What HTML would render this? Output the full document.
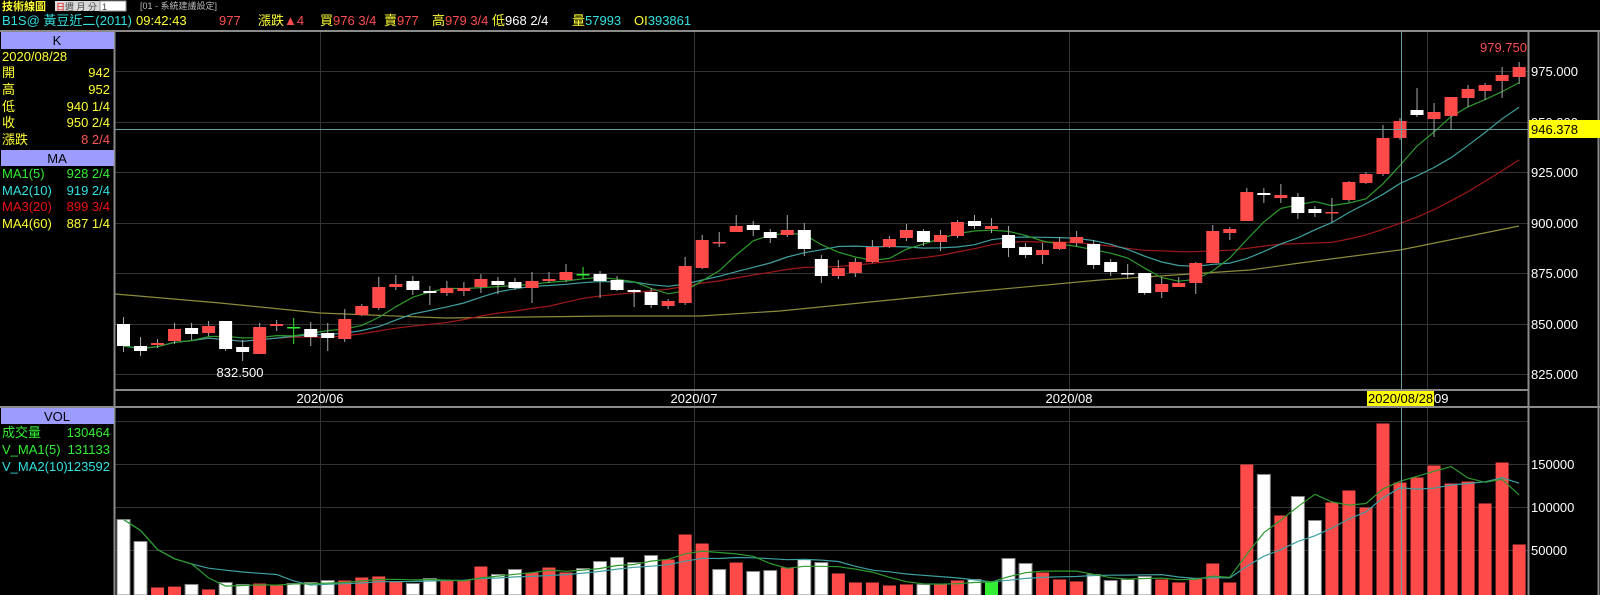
<!DOCTYPE html>
<html><head><meta charset="utf-8">
<style>
html,body{margin:0;padding:0;background:#000;width:1600px;height:595px;overflow:hidden}
svg{display:block}
text{font-family:"Liberation Sans","Noto Sans CJK TC",sans-serif}
</style></head><body>
<svg id="s" width="1600" height="595" viewBox="0 0 1600 595" xmlns="http://www.w3.org/2000/svg">
<rect width="1600" height="595" fill="#000"/>
<!-- top bar -->
<text x="2" y="10" font-size="11" font-weight="bold" fill="#ffff33">技術線圖</text>
<rect x="55" y="1" width="9" height="10" fill="#e0e0e0"/><text x="56" y="10" font-size="9" fill="#d00">日</text>
<rect x="64" y="1" width="36" height="10" fill="#d8d8d8"/><text x="65" y="10" font-size="9" fill="#444">週 月 分</text>
<rect x="100" y="1" width="26" height="10" fill="#fff" stroke="#999"/><text x="102" y="10" font-size="9" fill="#444">1</text>
<text x="140" y="9" font-size="9" fill="#bbb">[01 - 系統建議設定]</text>
<text x="2" y="25" font-size="13" fill="#33e0e0">B1S@  黃豆近二(2011)</text>
<text x="136" y="25" font-size="13" fill="#ffff33">09:42:43</text>
<text x="219" y="25" font-size="13" fill="#ff4d4d">977</text>
<text x="258" y="25" font-size="13"><tspan fill="#ffff33">漲跌</tspan><tspan fill="#ff4d4d">▲4</tspan></text>
<text x="320" y="25" font-size="13"><tspan fill="#ffff33">買</tspan><tspan fill="#ff4d4d">976 3/4</tspan></text>
<text x="384" y="25" font-size="13"><tspan fill="#ffff33">賣</tspan><tspan fill="#ff4d4d">977</tspan></text>
<text x="432" y="25" font-size="13"><tspan fill="#ffff33">高</tspan><tspan fill="#ff4d4d">979 3/4</tspan></text>
<text x="492" y="25" font-size="13"><tspan fill="#ffff33">低</tspan><tspan fill="#ffffff">968 2/4</tspan></text>
<text x="572" y="25" font-size="13"><tspan fill="#ffff33">量</tspan><tspan fill="#33e0e0">57993</tspan></text>
<text x="634" y="25" font-size="13"><tspan fill="#ffff33">OI</tspan><tspan fill="#33e0e0">393861</tspan></text>

<!-- gridlines -->
<g stroke="#333" stroke-width="1">
<line x1="115" y1="71.5" x2="1528" y2="71.5"/><line x1="115" y1="122.5" x2="1528" y2="122.5"/>
<line x1="115" y1="172.5" x2="1528" y2="172.5"/><line x1="115" y1="223.5" x2="1528" y2="223.5"/>
<line x1="115" y1="273.5" x2="1528" y2="273.5"/><line x1="115" y1="324.5" x2="1528" y2="324.5"/>
<line x1="115" y1="374.5" x2="1528" y2="374.5"/>
<line x1="115" y1="421.5" x2="1528" y2="421.5"/><line x1="115" y1="464.5" x2="1528" y2="464.5"/>
<line x1="115" y1="507.5" x2="1528" y2="507.5"/><line x1="115" y1="550.5" x2="1528" y2="550.5"/>
<line x1="320.5" y1="32" x2="320.5" y2="595"/><line x1="694.5" y1="32" x2="694.5" y2="595"/>
<line x1="1069.5" y1="32" x2="1069.5" y2="595"/><line x1="1427.5" y1="32" x2="1427.5" y2="595"/>
</g>
<g id="plot"></g>
<!-- crosshair -->
<line x1="115" y1="129.5" x2="1528" y2="129.5" stroke="#6a9f9f" stroke-width="1"/>
<line x1="1401.5" y1="32" x2="1401.5" y2="595" stroke="#6a9f9f" stroke-width="1"/>

<!-- frame -->
<g stroke="#8a8a8a" stroke-width="2" fill="none">
<line x1="0" y1="31" x2="1600" y2="31"/>
<line x1="114.5" y1="31" x2="114.5" y2="595"/>
<line x1="1528.5" y1="31" x2="1528.5" y2="595"/>
<line x1="1598.5" y1="31" x2="1598.5" y2="595"/>
<line x1="114" y1="390" x2="1528" y2="390"/>
<line x1="0" y1="407" x2="1600" y2="407"/>
</g>

<!-- price axis -->
<g font-size="13" fill="#fff">
<text x="1531" y="76">975.000</text><text x="1531" y="127">950.000</text>
<text x="1531" y="177">925.000</text><text x="1531" y="228">900.000</text>
<text x="1531" y="278">875.000</text><text x="1531" y="329">850.000</text>
<text x="1531" y="379">825.000</text>
<text x="1531" y="469">150000</text><text x="1531" y="512">100000</text><text x="1531" y="555">50000</text>
</g>
<rect x="1529" y="120" width="71" height="18" fill="#ffff00"/>
<text x="1531" y="134" font-size="13" fill="#000">946.378</text>
<text x="1527" y="52" font-size="13" fill="#ff4d4d" text-anchor="end">979.750</text>
<text x="240" y="377" font-size="13" fill="#fff" text-anchor="middle">832.500</text>

<!-- date row -->
<g font-size="13" fill="#fff" text-anchor="middle">
<text x="320" y="403">2020/06</text><text x="694" y="403">2020/07</text><text x="1069" y="403">2020/08</text>
</g>
<rect x="1367" y="391" width="67" height="15" fill="#ffff00"/>
<text x="1368" y="403" font-size="13" fill="#000">2020/08/28</text>
<text x="1434" y="403" font-size="13" fill="#fff">09</text>

<!-- left panel -->
<rect x="1" y="32" width="113" height="17" fill="#9c9cff"/>
<text x="57" y="45" font-size="13" fill="#000" text-anchor="middle">K</text>
<g font-size="13">
<text x="2" y="61" fill="#ffff33">2020/08/28</text>
<text x="2" y="77" fill="#ffff33">開</text><text x="110" y="77" fill="#ffff33" text-anchor="end">942</text>
<text x="2" y="94" fill="#ffff33">高</text><text x="110" y="94" fill="#ffff33" text-anchor="end">952</text>
<text x="2" y="111" fill="#ffff33">低</text><text x="110" y="111" fill="#ffff33" text-anchor="end">940 1/4</text>
<text x="2" y="127" fill="#ffff33">收</text><text x="110" y="127" fill="#ffff33" text-anchor="end">950 2/4</text>
<text x="2" y="144" fill="#ffff33">漲跌</text><text x="110" y="144" fill="#ff5555" text-anchor="end">8 2/4</text>
</g>
<rect x="1" y="150" width="113" height="16" fill="#9c9cff"/>
<text x="57" y="163" font-size="13" fill="#000" text-anchor="middle">MA</text>
<g font-size="13">
<text x="2" y="178" fill="#33ee33">MA1(5)</text><text x="110" y="178" fill="#33ee33" text-anchor="end">928 2/4</text>
<text x="2" y="195" fill="#33e0e0">MA2(10)</text><text x="110" y="195" fill="#33e0e0" text-anchor="end">919 2/4</text>
<text x="2" y="211" fill="#ee1111">MA3(20)</text><text x="110" y="211" fill="#ee1111" text-anchor="end">899 3/4</text>
<text x="2" y="228" fill="#ffff33">MA4(60)</text><text x="110" y="228" fill="#ffff33" text-anchor="end">887 1/4</text>
</g>
<rect x="1" y="408" width="113" height="16" fill="#9c9cff"/>
<text x="57" y="421" font-size="13" fill="#000" text-anchor="middle">VOL</text>
<g font-size="13">
<text x="2" y="437" fill="#33ee33">成交量</text><text x="110" y="437" fill="#33ee33" text-anchor="end">130464</text>
<text x="2" y="454" fill="#33ee33">V_MA1(5)</text><text x="110" y="454" fill="#33ee33" text-anchor="end">131133</text>
<text x="2" y="471" fill="#33e0e0">V_MA2(10)</text><text x="110" y="471" fill="#33e0e0" text-anchor="end">123592</text>
</g>
</svg>
<script>
(function(){
var C=[
"w 324 346 317 352","w 346 351 337 356","r 343 345 339 348","r 329 341 323 344","w 328 334 323 340",
"r 326 333 321 336","w 321 349 321 351","w 347 352 340 361","r 327 354 323 354","r 324 326 320 331",
"g 327 328 318 344","w 329 337 322 346","w 333 338 323 351","r 319 339 309 342","r 306 315 304 316",
"r 287 308 277 310","r 284 287 275 290","w 281 290 276 295","w 291 293 286 305","r 288 293 281 296",
"r 288 291 282 296","r 279 287 274 293","w 281 285 277 294","w 282 288 278 290","r 281 288 272 303",
"r 279 281 272 283","r 272 280 264 282","g 274 275 267 279","w 274 281 271 298","w 280 290 276 291",
"w 290 292 289 307","w 292 305 288 308","r 301 306 299 309","r 266 303 257 305","r 240 268 235 269",
"r 242 243 232 247","r 226 232 215 232","w 225 230 221 236","w 232 238 229 243","r 230 235 215 237",
"w 230 249 223 256","w 259 276 255 283","r 268 276 260 279","r 262 273 258 277","r 247 262 240 263",
"r 239 247 236 248","r 230 238 224 241","w 231 242 229 246","r 235 242 230 251","r 222 236 220 238",
"w 221 226 215 229","r 226 229 218 233","w 235 248 226 257","w 247 255 243 258","r 250 255 243 264",
"r 242 249 237 250","r 237 243 231 246","w 244 265 240 269","w 262 272 259 276","w 273 274 264 279",
"w 273 293 273 295","r 284 292 277 298","r 283 287 277 287","r 263 283 262 294","r 231 263 225 263",
"r 229 233 227 240","r 192 221 188 221","w 193 195 188 203","r 195 198 184 203","w 197 213 193 219",
"w 209 213 206 217","r 212 213 198 222","r 182 200 181 202","r 174 183 172 184","r 138 174 125 176",
"r 121 138 118 140","w 110 115 88 117","r 112 119 103 137","r 97 116 97 129","r 89 98 85 107",
"r 85 91 83 100","r 75 81 67 98","r 67 77 62 84"];
var V="w86000 w60500 r7000 r8000 w10500 r4700 w12800 w10500 r11600 r9300 w11600 w12800 w15100 r15100 r18600 r19800 r14000 w11600 w17400 r15100 r15100 r31400 w22100 w27900 r24400 r30200 r24400 w29000 w37200 w41900 w36000 w44200 r39500 r68600 r58100 w27900 r36000 w25600 w26700 r30200 w39500 w36000 r23300 r12800 r12800 r9300 r10500 w10500 r11600 r15100 w16300 g14000 w40700 w34900 r24400 r16300 r14000 w22100 w15100 w16300 w19800 r16300 r12800 r17400 r34900 r12800 r150000 w138400 r90700 w112800 w84900 r105800 r119800 r100000 r197700 r129000 r134900 r148800 r127900 r130200 r104700 r152300 r57000".split(" ");
var NS="http://www.w3.org/2000/svg",g=document.getElementById("plot");
function el(t,a){var e=document.createElementNS(NS,t);for(var k in a)e.setAttribute(k,a[k]);g.appendChild(e);return e;}
var RED="#ff4a4a",W="#ffffff",GR="#33ee33";
function X(i){return 117+i*17.02;}
var closes=[],vols=[];
for(var i=0;i<V.length;i++){var c=V[i].charAt(0),v=+V[i].slice(1);vols.push(v);
 var ty=593.5-v*43/50000,x=X(i);
 el("rect",{x:x,y:ty,width:13,height:595-ty,fill:c=="r"?RED:(c=="g"?GR:W),stroke:c=="w"?"#888":"none","stroke-width":c=="w"?1:0});}
for(var i=0;i<C.length;i++){var p=C[i].split(" ");closes.push(p[0]=="w"?+p[2]:+p[1]);}
function ma(arr,n){var r=[];for(var i=0;i<arr.length;i++){var s=0,k=0;for(var j=Math.max(0,i-n+1);j<=i;j++){s+=arr[j];k++;}r.push(s/k);}return r;}
function line(pts,col){el("polyline",{points:pts.join(" "),fill:"none",stroke:col,"stroke-width":1.2});}
function maLine(arr,n,col){var m=ma(arr,n),p=[];for(var i=0;i<m.length;i++)p.push((X(i)+6.5)+","+m[i].toFixed(1));line(p,col);}
line(["115,294","220,303","320,313","445,318","610,316","700,316","780,311","960,293","1100,280","1250,270","1300,263","1400,250","1519,226"],"#8c8c3c");
maLine(closes,20,"#a01818");
maLine(closes,10,"#3fa0a0");
maLine(closes,5,"#2e9a2e");
var vy=vols.map(function(v){return 593.5-v*43/50000;});
maLine(vy,10,"#3fa0a0");
maLine(vy,5,"#2e9a2e");
for(var i=0;i<C.length;i++){var p=C[i].split(" "),c=p[0],bt=+p[1],bb=+p[2],wt=+p[3],wb=+p[4],x=X(i),cx=x+6.5;
 var col=c=="r"?RED:(c=="g"?GR:W);
 el("line",{x1:cx,y1:wt,x2:cx,y2:wb,stroke:c=="g"?GR:"#aaaaaa","stroke-width":1});
 el("rect",{x:x,y:bt,width:13,height:Math.max(1.5,bb-bt),fill:col});}
})();
</script>
</body></html>
